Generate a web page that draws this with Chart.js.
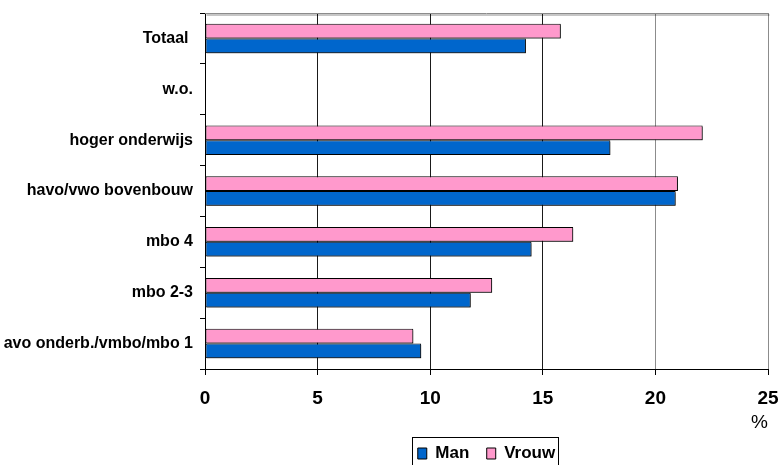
<!DOCTYPE html>
<html lang="nl">
<head>
  <meta charset="UTF-8">
  <title>Man / Vrouw naar opleiding</title>
  <script src="https://cdn.jsdelivr.net/npm/chart.js"></script>
  <style>
    body { margin: 0; background: #ffffff; }
    .chart-container { position: relative; width: 779px; height: 465px; }
  </style>
</head>
<body>
  <div class="chart-container">
    <canvas id="barChart"></canvas>
  </div>

  <script>
    // Data
    const categories = ['Totaal ', 'w.o.', 'hoger onderwijs', 'havo/vwo bovenbouw', 'mbo 4', 'mbo 2-3', 'avo onderb./vmbo/mbo 1'];
    const manValues = [14.25, null, 18.0, 20.9, 14.5, 11.8, 9.6];
    const vrouwValues = [15.8, null, 22.1, 21.0, 16.35, 12.75, 9.25];
    const xTicks = [0, 5, 10, 15, 20, 25];

    const font = "Arial, 'Liberation Sans', sans-serif";

    // shadow under the bars, like the original
    const barShadow = {
      id: 'barShadow',
      beforeDatasetsDraw(chart) {
        const c = chart.ctx;
        c.save();
        c.shadowColor = 'rgba(0,0,0,0.45)';
        c.shadowOffsetX = 1.5;
        c.shadowOffsetY = 1.5;
        c.shadowBlur = 0;
      },
      afterDatasetsDraw(chart) {
        chart.ctx.restore();
      }
    };

    // top border of plot + frame round the legend
    const frames = {
      id: 'frames',
      beforeDatasetsDraw(chart) {
        const { ctx, chartArea } = chart;
        ctx.save();
        ctx.strokeStyle = '#8c8c8c';
        ctx.lineWidth = 1;
        ctx.beginPath();
        ctx.moveTo(chartArea.left, chartArea.top + 0.5);
        ctx.lineTo(chartArea.right, chartArea.top + 0.5);
        ctx.stroke();
        ctx.restore();
      },
      afterDraw(chart) {
        const lg = chart.legend;
        if (!lg || !lg.legendHitBoxes.length) return;
        const boxes = lg.legendHitBoxes;
        const first = boxes[0];
        const last = boxes[boxes.length - 1];
        const ctx = chart.ctx;
        ctx.save();
        ctx.strokeStyle = '#000000';
        ctx.lineWidth = 1;
        ctx.strokeRect(Math.round(first.left - 6) + 0.5, Math.round(lg.top) + 0.5,
          Math.round(last.left + last.width - first.left + 9), 60);
        ctx.restore();
      }
    };

    new Chart(document.getElementById('barChart'), {
      type: 'bar',
      data: {
        labels: categories,
        datasets: [
          {
            label: 'Vrouw',
            data: vrouwValues,
            backgroundColor: '#ff99cc',
            borderColor: '#000000',
            borderWidth: 1,
            borderSkipped: false
          },
          {
            label: 'Man',
            data: manValues,
            backgroundColor: '#0066cc',
            borderColor: '#000000',
            borderWidth: 1,
            borderSkipped: false
          }
        ]
      },
      options: {
        indexAxis: 'y',
        responsive: true,
        maintainAspectRatio: false,
        animation: false,
        categoryPercentage: 0.58,
        barPercentage: 1.0,
        layout: { padding: { top: 13, right: 11, left: 0, bottom: -7 } },
        plugins: {
          legend: {
            position: 'bottom',
            fullSize: false,
            reverse: true,
            labels: {
              color: '#000000',
              font: { family: font, size: 17, weight: 'bold' },
              boxWidth: 9,
              boxHeight: 11,
              padding: 8,
              useBorderRadius: false,
              // a bit more room between the two items
              generateLabels(chart) {
                const items = Chart.defaults.plugins.legend.labels.generateLabels(chart);
                items.forEach(it => { if (it.datasetIndex === 1) it.text = it.text + '  '; });
                return items;
              }
            }
          },
          tooltip: { enabled: false }
        },
        scales: {
          x: {
            min: 0,
            max: 25,
            afterBuildTicks(scale) {
              scale.ticks = xTicks.map(v => ({ value: v }));
            },
            afterFit(scale) {
              scale.height = 68;
              scale.paddingLeft = 0;
              scale.paddingRight = 0;
            },
            ticks: {
              color: '#000000',
              font: { family: font, size: 19, weight: 'bold' },
              padding: 12
            },
            grid: {
              color: ctx => (ctx.tick && ctx.tick.value >= 20 ? '#8c8c8c' : '#1a1a1a'),
              lineWidth: 1,
              tickLength: 6,
              tickColor: '#000000'
            },
            border: { color: '#000000', width: 1 },
            title: {
              display: true,
              text: '%',
              align: 'end',
              color: '#000000',
              font: { family: font, size: 19 },
              padding: { top: 0, bottom: 3 }
            }
          },
          y: {
            afterFit(scale) {
              scale.width = 205;
              scale.paddingTop = 0;
              scale.paddingBottom = 0;
            },
            ticks: {
              color: '#000000',
              font: { family: font, size: 16, weight: 'bold' },
              padding: 7
            },
            grid: {
              drawOnChartArea: false,
              drawTicks: true,
              tickLength: 5,
              tickColor: '#000000'
            },
            border: { color: '#000000', width: 1 }
          }
        }
      },
      plugins: [barShadow, frames]
    });
  </script>
</body>
</html>
